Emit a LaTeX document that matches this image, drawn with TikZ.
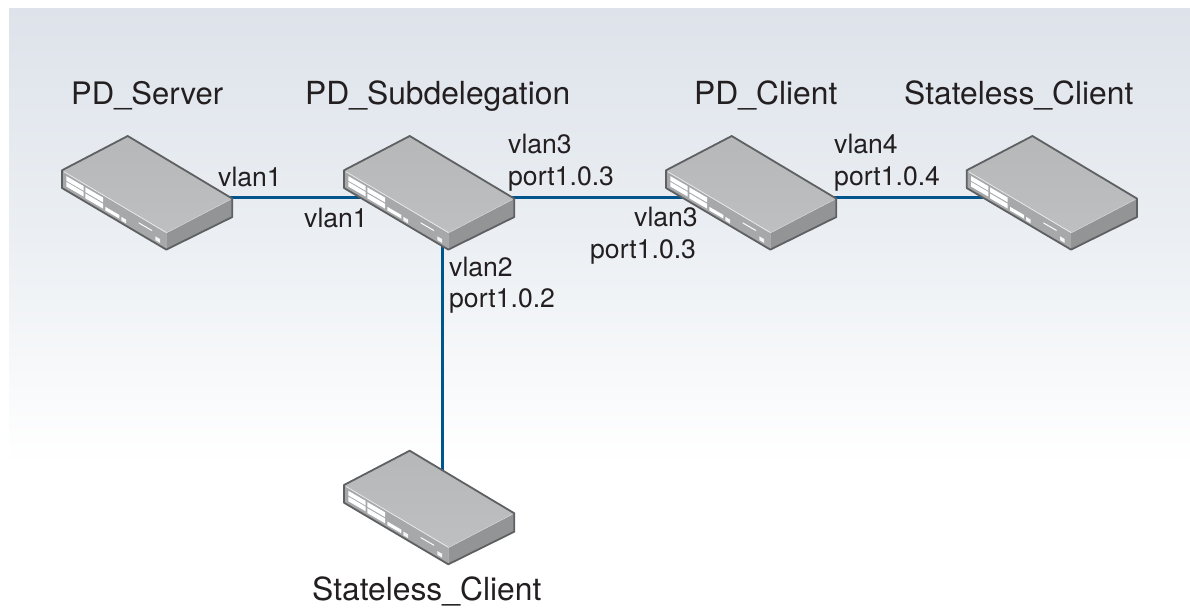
\documentclass[tikz,border=0pt]{standalone}
\usepackage{fontspec}
\setmainfont{TeX Gyre Heros}
\definecolor{inkc}{HTML}{231F20}
\definecolor{linkc}{HTML}{00558C}
\definecolor{edgec}{HTML}{5E6062}
\definecolor{topc}{HTML}{BEBFC1}
\definecolor{frontc}{HTML}{A6A8AA}
\definecolor{sidec}{HTML}{929496}
\definecolor{bgtop}{RGB}{222,227,235}
\definecolor{bgmid}{RGB}{235,239,243}
\tikzset{
  x=1pt,y=-1pt,
  title/.style={anchor=base west,inner sep=0pt,text=inkc,font=\fontsize{31.8}{34}\selectfont},
  lab/.style={anchor=base west,inner sep=0pt,text=inkc,font=\fontsize{26.6}{30}\selectfont},
  swbox/.style={minimum width=170pt,minimum height=114pt,inner sep=0pt,outer sep=0pt},
  link/.style={draw=linkc,line width=2.6pt},
  switch/.pic={
    \begin{scope}[shift={(-85,-27)}]
      \fill[frontc] (0,0)--(104.3,62.7)--(104.3,79.3)--(0,17.7)--cycle;
      \fill[sidec] (104.3,62.7)--(170.3,28.3)--(170.3,46.7)--(104.3,79.3)--cycle;
      \shade[top color=topc!96!black,bottom color=topc] (0,0)--(65.7,-34.3)--(170.3,28.3)--(104.3,62.7)--cycle;
      \draw[white!85!gray,line width=.7pt] (2,1.5)--(104.3,62.2);
      \draw[white!70!gray,line width=.4pt] (104.3,62.7)--(168,29.5);
      \foreach \x/\y/\w/\h in {4.3/5.8/17.4/4.6,4.3/11.6/17.4/4.6,23.3/17/17.7/4.8,23.3/23.2/17.7/4.8,43.3/36.5/14/3.6,76.7/52/13.3/1.1}{
        \fill[white] (\x,\y)--++(\w,\w*.58)--++(0,\h)--++(-\w,-\w*.58)--cycle;
      }
      \foreach \x/\y/\w/\h in {59.3/46.5/4.7/3.8,93.3/66/4.7/3.8}{
        \fill[white!92!gray] (\x,\y)--++(\w,\w*.58)--++(0,\h)--++(-\w,-\w*.58)--cycle;
      }
      \draw[edgec,line width=1.8pt,line join=round] (0,0)--(65.7,-34.3)--(170.3,28.3)--(170.3,46.7)--(104.3,79.3)--(0,17.7)--cycle;
    \end{scope}
  }
}
\begin{document}
\begin{tikzpicture}
\useasboundingbox (0,0) rectangle (1190,608);
\fill[white] (0,0) rectangle (1190,608);
\shade[top color=bgtop,bottom color=white,middle color=bgmid] (9,8) rectangle (1190,465);
\node[swbox] (srv) at (147,197.3) {};
\node[swbox] (sub) at (429,197.3) {};
\node[swbox] (cli) at (751,197.3) {};
\node[swbox] (sl1) at (1051.7,197.3) {};
\node[swbox] (sl2) at (429,512) {};
\draw[link] (srv.center)--(sub.center);
\draw[link] (sub.center)--(cli.center);
\draw[link] (cli.center)--(sl1.center);
\draw[link] ([xshift=13.5pt]sub.center)--([xshift=13.5pt]sl2.center);
\pic at (srv.center) {switch};
\pic at (sub.center) {switch};
\pic at (cli.center) {switch};
\pic at (sl1.center) {switch};
\pic at (sl2.center) {switch};
\node[title,font=\fontsize{31}{34}\selectfont] (t1) at (71,104) {PD\_Server};
\node[title] (t2) at (305,104) {PD\_Subdelegation};
\node[title] (t3) at (694,104) {PD\_Client};
\node[title] (t4) at (904,104) {Stateless\_Client};
\node[title] (t5) at (312,600) {Stateless\_Client};
\node[lab] (l1) at (218,186.7) {vlan1};
\node[lab] (l2) at (304,227.3) {vlan1};
\node[lab] (l3) at (508,153.3) {vlan3};
\node[lab] (l4) at (508,185) {port1.0.3};
\node[lab] (l5) at (634,226.7) {vlan3};
\node[lab] (l6) at (590,258.3) {port1.0.3};
\node[lab] (l7) at (834,153.3) {vlan4};
\node[lab] (l8) at (834,185) {port1.0.4};
\node[lab] (l9) at (449,276) {vlan2};
\node[lab] (l10) at (449,307) {port1.0.2};
\end{tikzpicture}
\end{document}
